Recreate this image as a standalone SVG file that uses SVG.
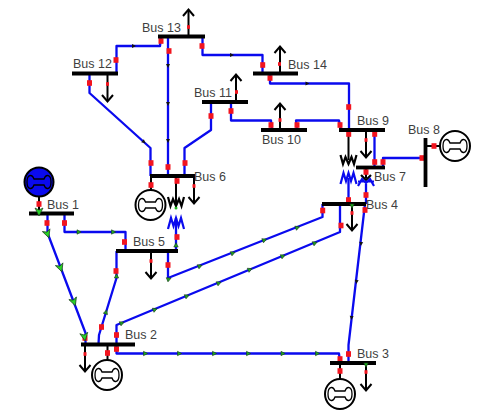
<svg xmlns="http://www.w3.org/2000/svg" width="480" height="415" viewBox="0 0 480 415">
<style>
text{font-family:"Liberation Sans",Arial,sans-serif;font-size:12.500px;fill:#3f3f3f}
.bar{stroke:#000;stroke-width:3.800;fill:none}
.ln{stroke:#0a0aee;stroke-width:2.300;fill:none;stroke-linejoin:round}
.blk{stroke:#000;stroke-width:2;fill:none}
.load{stroke:#000;stroke-width:2;fill:none}
.gen{fill:#fff;stroke:#000;stroke-width:2}
.wb{stroke:#0a0aee;stroke-width:2.200;fill:none}
.wk{stroke:#000;stroke-width:2.200;fill:none}
.r{fill:#f2141e}
</style>
<defs>
<rect id="s" class="r" x="-2.500" y="-2.800" width="5" height="5.600"/>
<rect id="t" class="r" x="-1.500" y="-1.800" width="3" height="3.600"/>
<polygon id="f" points="-2,-2.200 2.200,0 -2,2.200" fill="#1fa81f" stroke="#1a3a1a" stroke-width=".6"/>
<polygon id="F" points="-4,-4 4,0 -4,4 -2,0" fill="#28d228" stroke="#1a3a1a" stroke-width=".7"/>
<polygon id="k" points="-2,-2 2,0 -2,2" fill="#111"/>
<path id="up" class="load" d="M-5.500,7 L0,0.500 L5.500,7"/>
<path id="dn" class="load" d="M-5.500,-7 L0,-0.500 L5.500,-7"/>
<path id="db" fill="none" stroke="#000" stroke-width="1.300" d="M-5,-3 H5 C7,-8.500 12,-7.500 12,0 C12,7.500 7,8.500 5,3 H-5 C-7,8.500 -12,7.500 -12,0 C-12,-7.500 -7,-8.500 -5,-3Z"/>
<path id="zk" class="wk" d="M-8,-5 L-5.500,4 L-3,-3 L0,4 L3,-3 L5.500,4 L8,-5"/>
<path id="zb" class="wb" d="M-8,6 L-5,-5 L-2.500,3 L0,-5 L2.500,3 L5,-5 L8,6"/>
</defs>

<g id="connectors">
<path class="ln" d="M116.500,73 V46 H160 L161,37"/>
<path class="ln" d="M168,37 V176"/>
<path class="ln" d="M202.500,37 V55 H262.500 V73"/>
<path class="ln" d="M270,73 V83.500 H349 V130"/>
<path class="ln" d="M231,102 V120.500 H271 L272,130"/>
<path class="ln" d="M297,130 L296,120.500 H339 L341,130"/>
<path class="ln" d="M374.500,130 V167"/>
<path class="ln" d="M383,167 V158 H425"/>
<path class="ln" d="M89.500,74 V93 L150.500,148 V176"/>
<path class="ln" d="M211,102 V130 L184.500,148 V176"/>
<path class="ln" d="M176,218 V251"/>
<path class="ln" d="M47.500,214 V233 L85.500,333 V344"/>
<path class="ln" d="M64.500,214 V232 H125.500 V251"/>
<path class="ln" d="M116.500,251 V278 L99,335 L98.500,344"/>
<path class="ln" d="M168,251 V278 L322.500,217 V204"/>
<path class="ln" d="M116.500,344 V325 L340,232 V204"/>
<path class="ln" d="M116.500,344 V353.500 H339 L340,363"/>
<path class="ln" d="M365,204 L348.500,345 V363"/>
<path class="ln" d="M348.500,178 V204"/>
<path class="ln" d="M366,184 V204"/>
<path class="blk" d="M176,176 V208"/>
<path class="blk" d="M348.500,130 V160"/>
<path class="blk" d="M366,167 V178"/>
<use href="#zk" x="176" y="202"/><use href="#zb" x="176" y="223"/>
<use href="#zk" x="348.500" y="160"/><use href="#zb" x="348.500" y="178"/>
<path class="wk" d="M361,175 L366,180 L371,175"/>
<path class="wb" d="M358,186 L362,179 L366,183 L370,179 L374,186 M358,181.500 H374"/>
<use href="#s" x="161" y="41"/><use href="#s" x="169" y="51"/><use href="#s" x="116" y="60"/><use href="#s" x="202" y="46"/>
<use href="#s" x="89.500" y="83"/><use href="#s" x="211" y="116"/><use href="#s" x="231" y="111"/>
<use href="#s" x="151" y="163"/><use href="#s" x="168" y="167"/><use href="#s" x="185" y="163"/><use href="#s" x="177" y="181"/>
<use href="#s" x="262.700" y="65"/><use href="#s" x="270" y="78"/><use href="#s" x="348.700" y="107"/>
<use href="#s" x="271" y="125"/><use href="#s" x="297" y="125"/><use href="#s" x="340" y="125"/>
<use href="#s" x="348.700" y="134"/><use href="#s" x="374.700" y="134"/><use href="#s" x="374.700" y="162"/><use href="#s" x="383" y="162"/>
<use href="#s" x="422" y="158"/><use href="#s" x="366" y="172"/><use href="#s" x="366" y="195"/><use href="#s" x="348.500" y="200"/><use href="#s" x="365" y="210"/>
<use href="#s" x="47" y="223"/><use href="#s" x="64.500" y="223"/><use href="#s" x="124.500" y="242"/><use href="#s" x="177" y="237"/>
<use href="#s" x="168" y="265"/><use href="#s" x="116" y="271"/><use href="#s" x="101.500" y="327"/><use href="#s" x="85" y="338"/>
<use href="#s" x="116.500" y="335"/><use href="#s" x="116.500" y="349"/>
<use href="#s" x="322.700" y="210.500"/><use href="#s" x="341" y="225.500"/><use href="#s" x="348.500" y="354"/><use href="#s" x="340" y="359"/>
<use href="#f" transform="translate(79,232)"/><use href="#f" transform="translate(113.500,232)"/>
<use href="#F" transform="translate(47.500,234) rotate(70)"/><use href="#F" transform="translate(60.500,268) rotate(70)"/><use href="#F" transform="translate(74,302) rotate(70)"/><use href="#F" transform="translate(84.500,337) rotate(80)"/>
<use href="#f" transform="translate(106,312) rotate(-72)"/><use href="#f" transform="translate(116.500,276) rotate(-90)"/><use href="#f" transform="translate(176,245) rotate(-90)"/>
<use href="#f" transform="translate(169,279) rotate(-22)"/><use href="#f" transform="translate(200,266) rotate(-22)"/><use href="#f" transform="translate(233,253) rotate(-22)"/><use href="#f" transform="translate(264.500,240) rotate(-22)"/><use href="#f" transform="translate(297.500,227.500) rotate(-22)"/>
<use href="#f" transform="translate(122,323) rotate(-23)"/><use href="#f" transform="translate(155,309.500) rotate(-23)"/><use href="#f" transform="translate(187,296) rotate(-23)"/><use href="#f" transform="translate(219,283) rotate(-23)"/><use href="#f" transform="translate(250,269.500) rotate(-23)"/><use href="#f" transform="translate(283,256) rotate(-23)"/><use href="#f" transform="translate(315,243) rotate(-23)"/>
<use href="#f" x="145.500" y="353.500"/><use href="#f" x="179.500" y="353.500"/><use href="#f" x="214.500" y="353.500"/><use href="#f" x="248.500" y="353.500"/><use href="#f" x="283" y="353.500"/><use href="#f" x="317.500" y="353.500"/>
<use href="#k" transform="translate(361,244) rotate(95)"/><use href="#k" transform="translate(356.500,282) rotate(95)"/><use href="#k" transform="translate(351.500,318) rotate(95)"/>
<use href="#k" transform="translate(168,66) rotate(90)"/><use href="#k" transform="translate(168,104) rotate(90)"/><use href="#k" transform="translate(168,141) rotate(90)"/>
<use href="#k" transform="translate(144,142) rotate(42)"/><use href="#k" x="134" y="46"/><use href="#k" x="232" y="55"/><use href="#k" x="307.500" y="83.500"/>
</g>

<g id="bus1">
<path class="bar" d="M29,213.500 H74"/><path class="blk" d="M39,196 V213"/>
<circle cx="39" cy="182" r="14.500" fill="#0a0aee" stroke="#000" stroke-width="2"/>
<use href="#db" x="39" y="182"/>
<use href="#s" x="39" y="204"/><use href="#F" transform="translate(39,212) rotate(90)"/>
<text x="47" y="209">Bus 1</text>
</g>
<g id="bus2">
<path class="bar" d="M81,344.500 H135"/><path class="load" d="M85,344 V371"/><use href="#dn" x="85" y="372"/><use href="#t" x="85" y="354"/>
<path class="blk" d="M107.500,344 V361"/><circle class="gen" cx="107" cy="375" r="15"/><use href="#db" x="107" y="375"/><use href="#s" x="107.500" y="353"/>
<text x="125" y="339">Bus 2</text>
</g>
<g id="bus3">
<path class="bar" d="M330,363 H376"/><path class="load" d="M366,363 V390"/><use href="#dn" x="366" y="391"/><use href="#t" x="366" y="372"/><use href="#f" transform="translate(366,365) rotate(90)"/>
<path class="blk" d="M340,363 V380"/><circle class="gen" cx="340" cy="394" r="15"/><use href="#db" x="340" y="394"/><use href="#s" x="340" y="371"/>
<text x="357" y="358">Bus 3</text>
</g>
<g id="bus4">
<path class="bar" d="M322,204 H366"/><path class="load" d="M352,204 V230"/><use href="#dn" x="352" y="231"/><use href="#t" x="352" y="213"/><use href="#f" transform="translate(352,206) rotate(90)"/>
<text x="366" y="209">Bus 4</text>
</g>
<g id="bus5">
<path class="bar" d="M116,251 H178"/><path class="load" d="M151,251 V278"/><use href="#dn" x="151" y="279"/><use href="#t" x="151" y="261"/>
<text x="133" y="246">Bus 5</text>
</g>
<g id="bus6">
<path class="bar" d="M150,176 H195"/><path class="load" d="M194,176 V203"/><use href="#dn" x="194" y="204"/><use href="#t" x="194" y="186"/>
<path class="blk" d="M151,176 V191"/><circle class="gen" cx="150.500" cy="205" r="15"/><use href="#db" x="150.500" y="205"/><use href="#s" x="151" y="185"/>
<circle cx="176" cy="208" r="1.500" fill="#1fb81f"/>
<text x="194" y="181">Bus 6</text>
</g>
<g id="bus7">
<path class="bar" d="M356,167.500 H385"/>
<text x="374" y="181">Bus 7</text>
</g>
<g id="bus8">
<path class="bar" d="M425.500,138 V187"/><path class="blk" d="M425,146 H441"/><circle class="gen" cx="455" cy="146" r="15"/><use href="#db" x="455" y="146"/><use href="#s" x="434" y="146"/>
<text x="408" y="134">Bus 8</text>
</g>
<g id="bus9">
<path class="bar" d="M339,130 H385"/><path class="load" d="M366,130 V157"/><use href="#dn" x="366" y="158"/><use href="#t" x="366" y="140"/>
<text x="357" y="125">Bus 9</text>
</g>
<g id="bus10">
<path class="bar" d="M261,130 H307"/><path class="load" d="M280,130 V104"/><use href="#up" x="280" y="103"/><use href="#t" x="280" y="120"/>
<text x="262" y="144">Bus 10</text>
</g>
<g id="bus11">
<path class="bar" d="M202,102 H248"/><path class="load" d="M236,102 V75"/><use href="#up" x="236" y="74"/><use href="#t" x="236.500" y="92"/>
<text x="194" y="97">Bus 11</text>
</g>
<g id="bus12">
<path class="bar" d="M72,73.500 H118"/><path class="load" d="M107.500,74 V101"/><use href="#dn" x="107.500" y="102"/><use href="#t" x="107.500" y="84"/>
<text x="73" y="68">Bus 12</text>
</g>
<g id="bus13">
<path class="bar" d="M158,36.500 H205"/><path class="load" d="M188.500,36 V10"/><use href="#up" x="188.500" y="9"/><use href="#t" x="188.500" y="27"/>
<text x="142" y="32">Bus 13</text>
</g>
<g id="bus14">
<path class="bar" d="M253,73.500 H298"/><path class="load" d="M280,73 V47"/><use href="#up" x="280" y="46"/><use href="#t" x="279.500" y="64"/>
<text x="288" y="69">Bus 14</text>
</g>
</svg>
